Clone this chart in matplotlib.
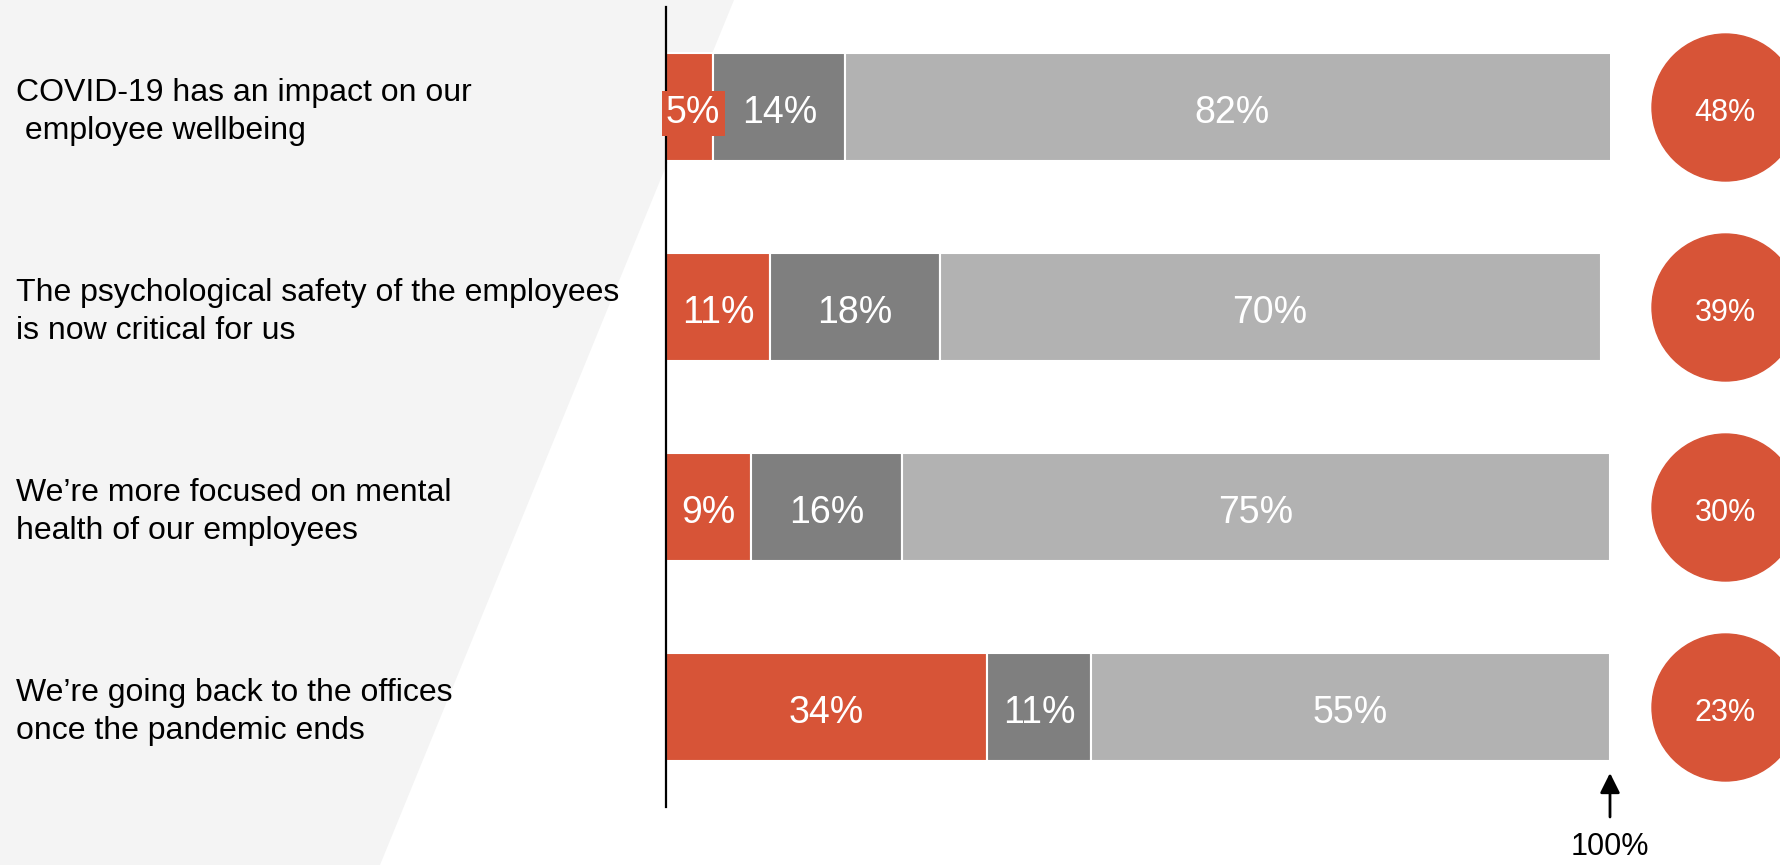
import matplotlib.pyplot as plt
from matplotlib.patches import Polygon
from matplotlib.transforms import blended_transform_factory

plt.rcParams['font.family'] = ['Liberation Sans', 'DejaVu Sans']

statements = [
    "COVID-19 has an impact on our\n employee wellbeing",
    "The psychological safety of the employees\nis now critical for us",
    "We\u2019re more focused on mental\nhealth of our employees",
    "We\u2019re going back to the offices\nonce the pandemic ends",
]
disagree = [5, 11, 9, 34]
neutral = [14, 18, 16, 11]
agree = [82, 70, 75, 55]
highlight = [48, 39, 30, 23]

RED = '#D75437'
DARK = '#7F7F7F'
LIGHT = '#B2B2B2'

W, H = 1780, 865
fig = plt.figure(figsize=(W / 100, H / 100), dpi=100)

# light slanted panel behind the statements
bg = fig.add_axes([0, 0, 1, 1], zorder=0)
bg.set_xlim(0, W)
bg.set_ylim(H, 0)
bg.axis('off')
bg.add_patch(Polygon([(0, 0), (734, 0), (380, H), (0, H)], closed=True,
                     facecolor='#F4F4F4', edgecolor='none'))

ax = fig.add_axes([666 / W, (H - 807) / H, 944 / W, 800 / H], zorder=1)
ax.patch.set_alpha(0)
ax.set_xlim(0, 100)
ax.set_ylim(3.5, -0.5)
for s in ['top', 'right', 'bottom']:
    ax.spines[s].set_visible(False)
ax.spines['left'].set_linewidth(1.6)
ax.set_xticks([])
ax.set_yticks([])

y = list(range(len(statements)))
h = 0.54
dy = 0.03  # nudge labels so the digits sit visually centred
left = [0] * len(y)
for vals, col in [(disagree, RED), (neutral, DARK), (agree, LIGHT)]:
    ax.barh(y, vals, left=left, height=h, color=col, edgecolor='white', linewidth=1.5)
    for i, v in enumerate(vals):
        if v < 8:
            # narrow segment: label sits on a red box starting at the axis
            ax.text(left[i], y[i] + dy, f"{v}%", ha='left', va='center', color='white',
                    fontsize=27, bbox=dict(boxstyle='square,pad=0.12', fc=col, ec='none'))
        else:
            ax.text(left[i] + v / 2, y[i] + dy, f"{v}%", ha='center', va='center',
                    color='white', fontsize=27)
    left = [l + v for l, v in zip(left, vals)]

# circles with the highlight share
ax.scatter([112.2] * len(y), y, s=11200, color=RED, clip_on=False, zorder=3)
for i, v in enumerate(highlight):
    ax.text(112.2, y[i] + dy, f"{v}%", ha='center', va='center', color='white',
            fontsize=22, zorder=4)

# statements on the left
tr = blended_transform_factory(fig.transFigure, ax.transData)
for i, s in enumerate(statements):
    ax.text(16 / W, y[i] + 0.025, s, transform=tr, ha='left', va='center', fontsize=23,
            linespacing=1.32, color='black')

# 100% marker
ax.annotate('', xy=(100, 3.33), xytext=(100, 3.55), annotation_clip=False,
            arrowprops=dict(arrowstyle='-|>', color='black', lw=2, mutation_scale=30,
                            shrinkA=0, shrinkB=0))
ax.text(100, 3.7, '100%', ha='center', va='center', fontsize=22, clip_on=False)

fig.savefig('out.png', dpi=100)
